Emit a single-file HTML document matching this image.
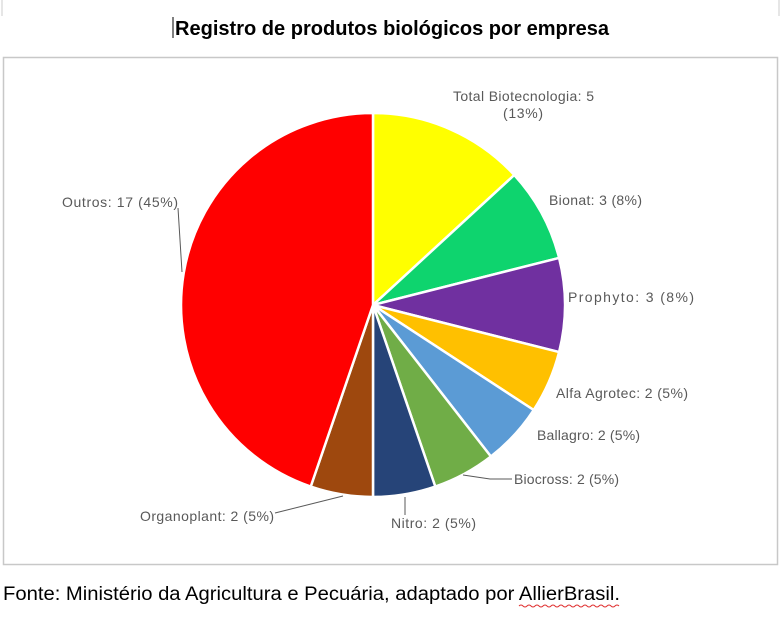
<!DOCTYPE html>
<html><head><meta charset="utf-8"><style>
body{margin:0;width:781px;height:614px;background:#fff;overflow:hidden;font-family:"Liberation Sans",sans-serif}
</style></head><body>
<svg width="781" height="614" xmlns="http://www.w3.org/2000/svg">
<line x1="2" y1="0" x2="2" y2="16" stroke="#ccc"/>
<line x1="779" y1="0" x2="779" y2="16" stroke="#ccc"/>
<text x="175" y="35" font-size="20" font-weight="bold" fill="#000" textLength="434" lengthAdjust="spacingAndGlyphs">Registro de produtos biológicos por empresa</text>
<line x1="173" y1="17" x2="173" y2="38" stroke="#000"/>
<rect x="3.5" y="57.5" width="774" height="507" fill="#fff" stroke="#c8c8c8" stroke-width="1.5"/>
<g stroke="#fff" stroke-width="2.5" stroke-linejoin="round">
<path d="M373,305 L373,113 A192,192 0 0 1 514.3,175 Z" fill="#FFFF00"/>
<path d="M373,305 L514.3,175 A192,192 0 0 1 559.1,257.9 Z" fill="#0ED46E"/>
<path d="M373,305 L559.1,257.9 A192,192 0 0 1 559.1,352.1 Z" fill="#7030A0"/>
<path d="M373,305 L559.1,352.1 A192,192 0 0 1 533.7,410 Z" fill="#FFC000"/>
<path d="M373,305 L533.7,410 A192,192 0 0 1 490.9,456.5 Z" fill="#5B9BD5"/>
<path d="M373,305 L490.9,456.5 A192,192 0 0 1 435.3,486.6 Z" fill="#70AD47"/>
<path d="M373,305 L435.3,486.6 A192,192 0 0 1 373,497 Z" fill="#264478"/>
<path d="M373,305 L373,497 A192,192 0 0 1 310.7,486.6 Z" fill="#9E480E"/>
<path d="M373,305 L310.7,486.6 A192,192 0 0 1 373,113 Z" fill="#FF0000"/>
</g>
<g stroke="#595959" stroke-width="1" fill="none">
<polyline points="178,208 182,272"/>
<polyline points="463,475 490,479 512,479"/>
<polyline points="275,513 343,496"/>
<polyline points="405,497 405,515"/>
</g>
<g font-size="14" fill="#595959" lengthAdjust="spacingAndGlyphs">
<text x="453" y="101" textLength="141">Total Biotecnologia: 5</text>
<text x="503" y="118" textLength="40">(13%)</text>
<text x="549" y="205" textLength="93">Bionat: 3 (8%)</text>
<text x="568" y="302" textLength="126">Prophyto: 3 (8%)</text>
<text x="556" y="398" textLength="132">Alfa Agrotec: 2 (5%)</text>
<text x="537" y="440" textLength="103">Ballagro: 2 (5%)</text>
<text x="514" y="484" textLength="105">Biocross: 2 (5%)</text>
<text x="391" y="528" textLength="85">Nitro: 2 (5%)</text>
<text x="140" y="521" textLength="134">Organoplant: 2 (5%)</text>
<text x="62" y="207" textLength="116">Outros: 17 (45%)</text>
</g>
<text x="3" y="600" font-size="19" fill="#000" textLength="617" lengthAdjust="spacingAndGlyphs">Fonte: Ministério da Agricultura e Pecuária, adaptado por AllierBrasil.</text>
<path d="M519,606 q2,-2 4,0 t4,0 t4,0 t4,0 t4,0 t4,0 t4,0 t4,0 t4,0 t4,0 t4,0 t4,0 t4,0 t4,0 t4,0 t4,0 t4,0 t4,0 t4,0 t4,0 t4,0 t4,0 t4,0 t4,0 t4,0" stroke="#e03030" fill="none" stroke-width="1"/>
</svg>
</body></html>
